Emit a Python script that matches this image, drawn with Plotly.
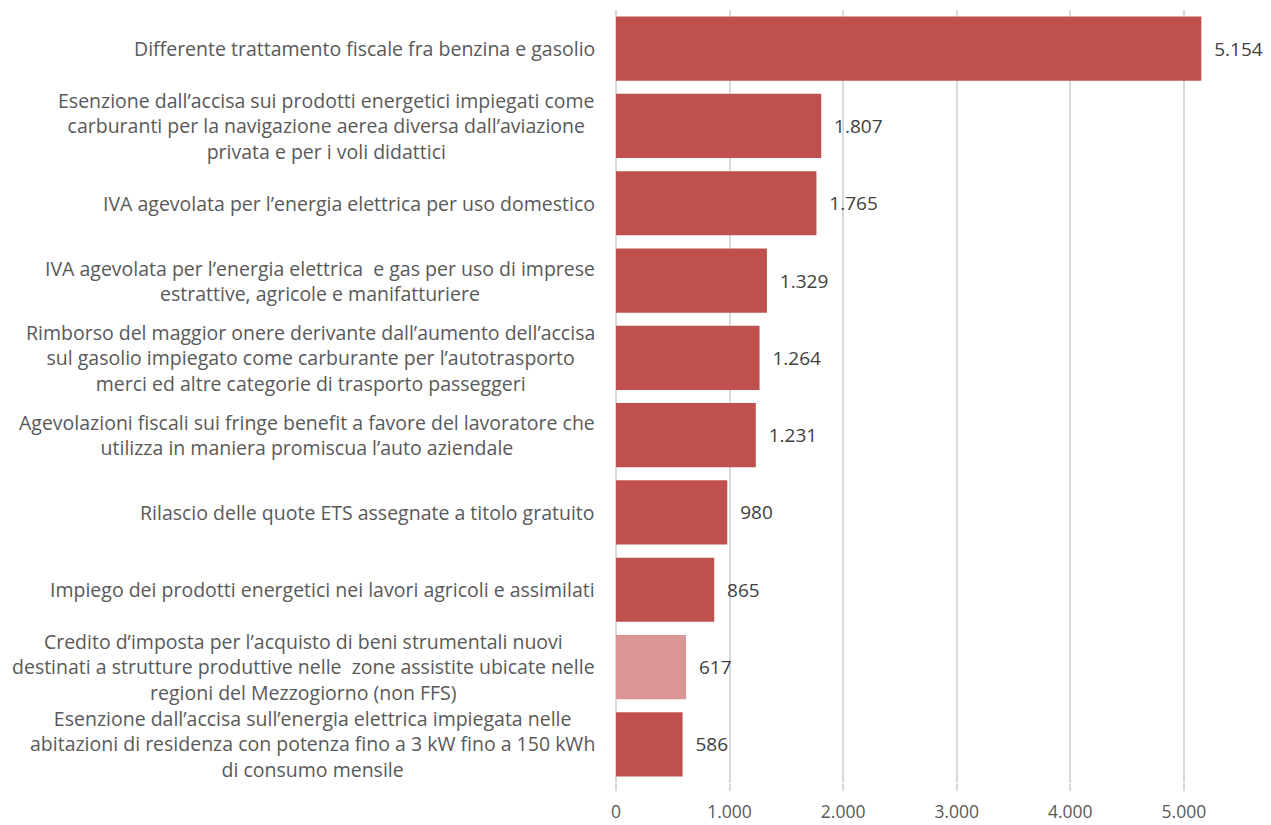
import plotly.graph_objects as go

categories = [
    "Differente trattamento fiscale fra benzina e gasolio",
    "Esenzione dall’accisa sui prodotti energetici impiegati come<br>carburanti per la navigazione aerea diversa dall’aviazione<br>privata e per i voli didattici",
    "IVA agevolata per l’energia elettrica per uso domestico",
    "IVA agevolata per l’energia elettrica  e gas per uso di imprese<br>estrattive, agricole e manifatturiere",
    "Rimborso del maggior onere derivante dall’aumento dell’accisa<br>sul gasolio impiegato come carburante per l’autotrasporto<br>merci ed altre categorie di trasporto passeggeri",
    "Agevolazioni fiscali sui fringe benefit a favore del lavoratore che<br>utilizza in maniera promiscua l’auto aziendale",
    "Rilascio delle quote ETS assegnate a titolo gratuito",
    "Impiego dei prodotti energetici nei lavori agricoli e assimilati",
    "Credito d’imposta per l’acquisto di beni strumentali nuovi<br>destinati a strutture produttive nelle  zone assistite ubicate nelle<br>regioni del Mezzogiorno (non FFS)",
    "Esenzione dall’accisa sull’energia elettrica impiegata nelle<br>abitazioni di residenza con potenza fino a 3 kW fino a 150 kWh<br>di consumo mensile",
]
values = [5154, 1807, 1765, 1329, 1264, 1231, 980, 865, 617, 586]
colors = ["#C0504D"] * 8 + ["#D99694", "#C0504D"]
xticks = [0, 1000, 2000, 3000, 4000, 5000]

ids = list(range(len(categories)))
font_family = "'Open Sans', sans-serif"

fig = go.Figure()
fig.add_trace(go.Bar(
    x=values,
    y=ids,
    orientation="h",
    marker=dict(color=colors, line=dict(width=0)),
    text=["\u00a0\u00a0" + f"{v:,}".replace(",", ".") for v in values],
    textposition="outside",
    textfont=dict(family=font_family, size=19, color="#404040"),
    cliponaxis=False,
    hoverinfo="skip",
))

for i, c in zip(ids, categories):
    fig.add_annotation(
        x=-0.03, xref="paper", y=i, yref="y",
        text=c, showarrow=False, xanchor="right", yanchor="middle",
        align="center", font=dict(family=font_family, size=19.5, color="#595959"),
    )

fig.update_layout(
    width=1271, height=825,
    margin=dict(l=616, r=19, t=10, b=42, autoexpand=False),
    plot_bgcolor="white", paper_bgcolor="white",
    separators=",.",
    bargap=0.17,
    showlegend=False,
    xaxis=dict(
        range=[0, 5600], tickvals=xticks, tickformat=",",
        showgrid=True, gridcolor="#D9D9D9", gridwidth=2,
        zeroline=True, zerolinecolor="#D9D9D9", zerolinewidth=2,
        tickfont=dict(family=font_family, size=17.5, color="#595959"),
        ticks="outside", ticklen=7, tickwidth=2, tickcolor="#D9D9D9",
        ticklabelstandoff=6, automargin=False,
    ),
    yaxis=dict(
        range=[9.5, -0.5], showticklabels=False, showgrid=False,
        zeroline=False, tickvals=ids, automargin=False,
    ),
)

fig.write_html("out.html")
